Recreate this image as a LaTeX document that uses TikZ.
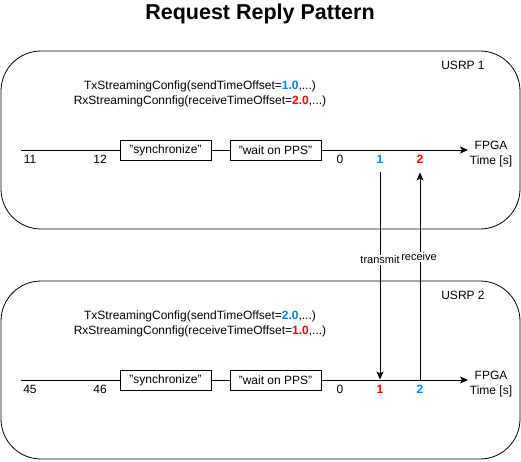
\documentclass[tikz,border=0pt]{standalone}
\usepackage{fontspec}
\setmainfont{Liberation Sans}
\usetikzlibrary{arrows.meta}
\definecolor{tblue}{HTML}{007FFF}
\definecolor{tred}{HTML}{FF0000}
\begin{document}
\begin{tikzpicture}[x=1pt,y=-1pt,
  txt/.style={font=\fontsize{12}{15}\selectfont, inner sep=0pt},
  num/.style={font=\bfseries\fontsize{12}{15}\selectfont, inner sep=0pt},
  lbl/.style={font=\fontsize{11}{13}\selectfont, inner sep=1pt, fill=white},
  procbox/.style={draw, line width=0.8pt, minimum width=91pt, minimum height=20pt, inner sep=0pt, font=\fontsize{12}{15}\selectfont},
  device/.style={draw, line width=0.8pt, rounded corners=40pt},
  tip/.style={-{Stealth[length=8pt,width=7pt,inset=2pt]}, line width=0.8pt},
  plain/.style={line width=0.8pt}]
\useasboundingbox (0,0) rectangle (521,461);
\node[font=\bfseries\fontsize{21.5}{25}\selectfont] (title) at (260,14) {Request Reply Pattern};
% device boxes
\draw[device] (1,51) rectangle (520,229);
\draw[device] (1,281) rectangle (520,459);
\node[txt] (u1) at (463,65) {USRP 1};
\node[txt] (u2) at (463,295) {USRP 2};
% config text
\node[txt, align=center] (c1) at (200,94) {TxStreamingConfig(sendTimeOffset=\textbf{\textcolor{tblue}{1.0}},...)\\RxStreamingConnfig(receiveTimeOffset=\textbf{\textcolor{tred}{2.0}},...)};
\node[txt, align=center] (c2) at (200,324) {TxStreamingConfig(sendTimeOffset=\textbf{\textcolor{tblue}{2.0}},...)\\RxStreamingConnfig(receiveTimeOffset=\textbf{\textcolor{tred}{1.0}},...)};
% timeline 1
\coordinate (s1) at (21,150);
\coordinate (e1) at (468,150);
\node[procbox] (sy1) at (165.5,150) {"synchronize"};
\node[procbox] (wp1) at (275.5,150) {"wait on PPS"};
\draw[plain] (s1) -- (sy1.west);
\draw[plain] (sy1.east) -- (wp1.west);
\draw[tip] (wp1.east) -- (e1);
\node[txt] at (30,159) {11};
\node[txt] at (100,159) {12};
\node[txt] at (340,159) {0};
\node[num, text=tblue] at (380,159) {1};
\node[num, text=tred] at (420,159) {2};
\node[txt, align=center] (f1) at (491,154) {FPGA\\Time [s]};
% timeline 2
\coordinate (s2) at (21,380);
\coordinate (e2) at (468,380);
\node[procbox] (sy2) at (165.5,380) {"synchronize"};
\node[procbox] (wp2) at (275.5,380) {"wait on PPS"};
\draw[plain] (s2) -- (sy2.west);
\draw[plain] (sy2.east) -- (wp2.west);
\draw[tip] (wp2.east) -- (e2);
\node[txt] at (30,389) {45};
\node[txt] at (100,389) {46};
\node[txt] at (340,389) {0};
\node[num, text=tred] at (380,389) {1};
\node[num, text=tblue] at (420,389) {2};
\node[txt, align=center] (f2) at (491,384) {FPGA\\Time [s]};
% transmit / receive
\coordinate (ta) at (380,172);
\coordinate (tb) at (380,379.5);
\coordinate (ra) at (420,380);
\coordinate (rb) at (420,172.5);
\draw[tip] (ta) -- (tb);
\draw[tip] (ra) -- (rb);
\node[lbl] (tl) at (380,260) {transmit};
\node[lbl] (rl) at (419,257) {receive};
\end{tikzpicture}
\end{document}
